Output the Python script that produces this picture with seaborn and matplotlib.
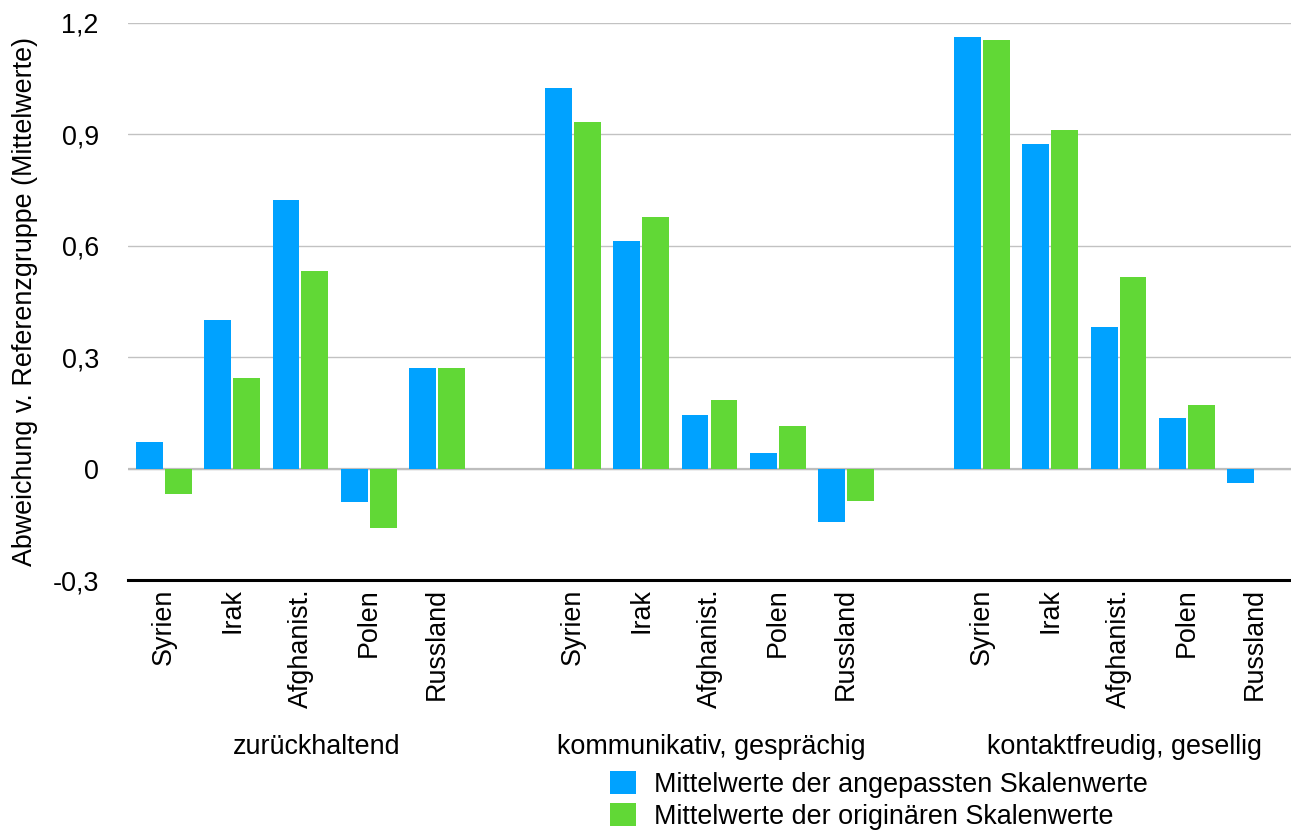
import numpy as np
import pandas as pd
import matplotlib
matplotlib.use("Agg")
import matplotlib.pyplot as plt
import seaborn as sns

# Kategorien und Werte
gruppen = ["zurückhaltend", "kommunikativ, gesprächig", "kontaktfreudig, gesellig"]
laender = ["Syrien", "Irak", "Afghanist.", "Polen", "Russland"]
reihen = ["Mittelwerte der angepassten Skalenwerte",
          "Mittelwerte der originären Skalenwerte"]

angepasst = [
    [0.071, 0.40, 0.723, -0.089, 0.27],
    [1.024, 0.612, 0.144, 0.042, -0.144],
    [1.161, 0.874, 0.381, 0.136, -0.038],
]
originaer = [
    [-0.069, 0.244, 0.532, -0.159, 0.27],
    [0.933, 0.677, 0.184, 0.114, -0.087],
    [1.153, 0.911, 0.516, 0.171, np.nan],
]

y_ticks = [-0.3, 0.0, 0.3, 0.6, 0.9, 1.2]
farben = ["#00A2FF", "#61D836"]

# Langes Datenformat fuer seaborn
zeilen = []
for gi, g in enumerate(gruppen):
    for li, land in enumerate(laender):
        zeilen.append({"slot": f"{g}|{land}", "reihe": reihen[0], "wert": angepasst[gi][li]})
        zeilen.append({"slot": f"{g}|{land}", "reihe": reihen[1], "wert": originaer[gi][li]})
df = pd.DataFrame(zeilen)

# Reihenfolge mit leeren Plaetzen zwischen den Gruppen
order = []
for gi, g in enumerate(gruppen):
    if gi:
        order.append(f"leer{gi}")
    order += [f"{g}|{land}" for land in laender]

sns.set_theme(style="white")
plt.rcParams["font.family"] = ["Liberation Sans", "DejaVu Sans"]
fs = 19.4

W, H = 1291, 832
fig = plt.figure(figsize=(W / 100, H / 100), dpi=100)
ax_l, ax_r, ax_t, ax_b = 128, 1291, 22.7, 580
ax = fig.add_axes([ax_l / W, 1 - ax_b / H, (ax_r - ax_l) / W, (ax_b - ax_t) / H])

sns.barplot(data=df, x="slot", y="wert", hue="reihe", order=order,
            hue_order=reihen, palette=farben, width=0.85, gap=0.07,
            errorbar=None, saturation=1, linewidth=0, ax=ax, zorder=3)

# Achsen
ax.set_ylim(-0.3, 1.2)
ax.set_yticks(y_ticks)
ax.set_yticklabels(["0" if v == 0 else f"{v:.1f}".replace(".", ",") for v in y_ticks])
ax.set_xlim(-0.53, len(order) - 1 + 0.53)

pos = [i for i, s in enumerate(order) if not s.startswith("leer")]
ax.set_xticks(pos)
ax.set_xticklabels([s.split("|")[1] for s in order if not s.startswith("leer")],
                   rotation=90, va="top", ha="center")

ax.yaxis.grid(True, color="#C2C2C2", lw=1.0)
ax.xaxis.grid(False)
ax.set_axisbelow(True)
ax.axhline(0, color="#BDBDBD", lw=1.6, zorder=2)

for s in ["left", "top", "right"]:
    ax.spines[s].set_visible(False)
ax.spines["bottom"].set_color("black")
ax.spines["bottom"].set_linewidth(2.2)

ax.tick_params(axis="both", length=0, labelsize=fs, colors="black")
ax.tick_params(axis="x", pad=6)
ax.tick_params(axis="y", pad=21)

ax.set_xlabel("")
ax.set_ylabel("Abweichung v. Referenzgruppe (Mittelwerte)", fontsize=fs, color="black")
ax.yaxis.set_label_coords((38 - ax_l) / (ax_r - ax_l), 0.5)

# Gruppenbeschriftungen unter den Laendernamen
gruppen_x = [2.24, 8.02, 14.09]
for gx, g in zip(gruppen_x, gruppen):
    ax.text(gx, (ax_b - 754) / (ax_b - ax_t), g, transform=ax.get_xaxis_transform(),
            ha="center", va="baseline", fontsize=fs, color="black")

sns.move_legend(ax, "upper left", bbox_to_anchor=(610 / W, 1 - 771 / H),
                bbox_transform=fig.transFigure, frameon=False, title=None,
                fontsize=fs, handlelength=0.95, handleheight=0.93,
                handletextpad=0.68, labelspacing=0.2, borderpad=0,
                borderaxespad=0, labelcolor="black")

fig.savefig("out.png", dpi=100)
